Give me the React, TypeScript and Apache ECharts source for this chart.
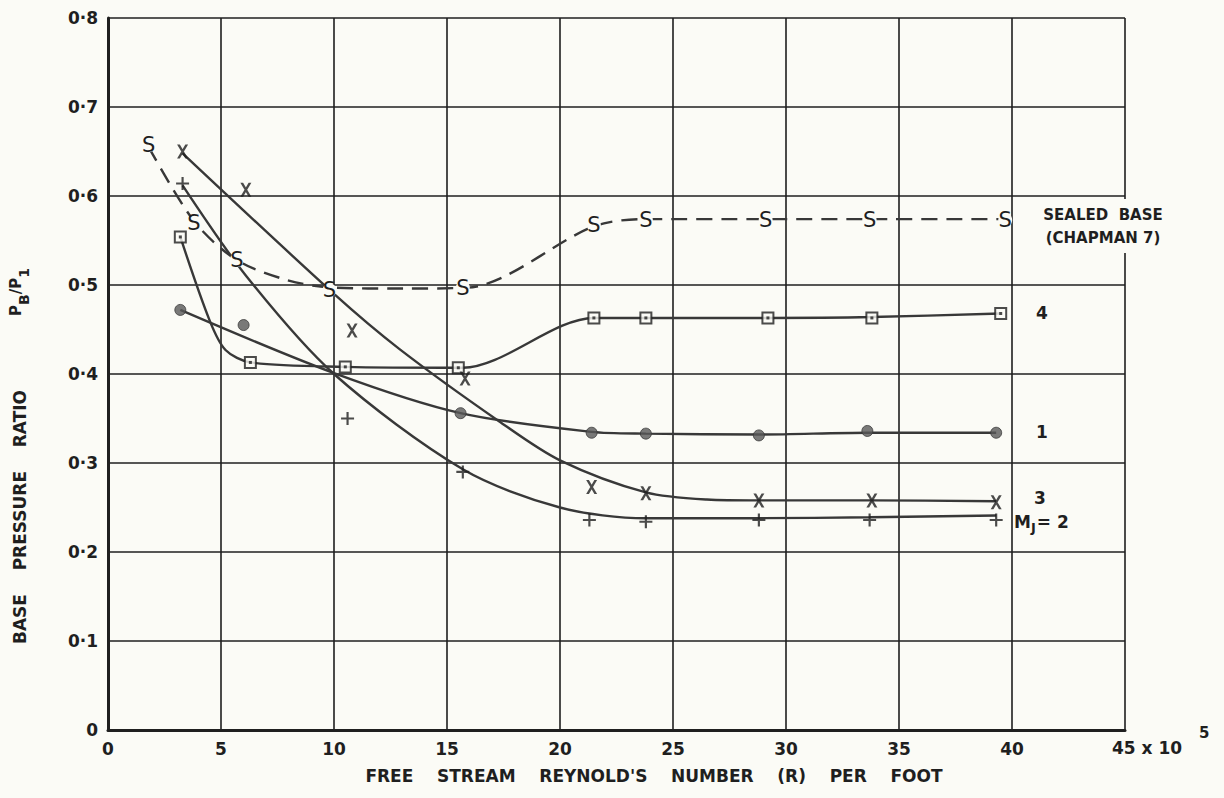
import { useEffect, useRef } from "react";
import * as echarts from "echarts";

// ---------- data ----------
const xTickValues = [0, 5, 10, 15, 20, 25, 30, 35, 40, 45];
const yTickValues = [0, 0.1, 0.2, 0.3, 0.4, 0.5, 0.6, 0.7, 0.8];

// Sealed base (Chapman 7) - dashed curve with "S" marks
const sealedCurveX = [1.8, 3.8, 5.7, 8.0, 10.0, 13.0, 15.9, 21.5, 23.8, 29.1, 33.7, 39.7];
const sealedCurveY = [0.655, 0.572, 0.528, 0.505, 0.497, 0.496, 0.497, 0.566, 0.574, 0.574, 0.574, 0.574];
const sealedMarkX = [1.8, 3.8, 5.7, 9.8, 15.7, 21.5, 23.8, 29.1, 33.7, 39.7];
const sealedMarkY = [0.657, 0.570, 0.528, 0.494, 0.497, 0.567, 0.573, 0.573, 0.573, 0.573];

// Mj = 4 (squares)
const m4CurveX = [3.2, 4.5, 5.2, 6.3, 10.5, 15.7, 21.5, 23.8, 29.2, 33.8, 39.5];
const m4CurveY = [0.554, 0.46, 0.427, 0.413, 0.408, 0.407, 0.463, 0.463, 0.463, 0.464, 0.468];
const m4MarkX = [3.2, 6.3, 10.5, 15.5, 21.5, 23.8, 29.2, 33.8, 39.5];
const m4MarkY = [0.554, 0.413, 0.408, 0.407, 0.463, 0.463, 0.463, 0.463, 0.468];

// Mj = 1 (circles)
const m1CurveX = [3.2, 10.0, 15.6, 21.4, 23.8, 28.8, 33.6, 39.3];
const m1CurveY = [0.472, 0.401, 0.356, 0.335, 0.333, 0.332, 0.334, 0.334];
const m1MarkX = [3.2, 6.0, 15.6, 21.4, 23.8, 28.8, 33.6, 39.3];
const m1MarkY = [0.472, 0.455, 0.356, 0.334, 0.333, 0.331, 0.336, 0.334];

// Mj = 3 (crosses x)
const m3CurveX = [3.3, 10.0, 12.9, 17.3, 20.0, 23.8, 26.5, 28.8, 33.8, 39.3];
const m3CurveY = [0.648, 0.49, 0.428, 0.347, 0.303, 0.267, 0.259, 0.258, 0.258, 0.257];
const m3MarkX = [3.3, 6.1, 10.8, 15.8, 21.4, 23.8, 28.8, 33.8, 39.3];
const m3MarkY = [0.650, 0.607, 0.449, 0.395, 0.273, 0.266, 0.258, 0.258, 0.256];

// Mj = 2 (plus)
const m2CurveX = [3.3, 6.15, 10.0, 15.7, 20.0, 23.8, 28.8, 33.7, 39.3];
const m2CurveY = [0.612, 0.509, 0.40, 0.293, 0.25, 0.238, 0.238, 0.239, 0.241];
const m2MarkX = [3.3, 10.6, 15.7, 21.3, 23.8, 28.8, 33.7, 39.3];
const m2MarkY = [0.614, 0.350, 0.290, 0.236, 0.234, 0.236, 0.236, 0.236];

// ---------- styling ----------
const BG = "#fbfbf6";
const INK = "#1f1f1f";
const CURVE = "#383838";
const FONT = "DejaVu Sans";

const zip = (xs: number[], ys: number[]) => xs.map((x, i) => [x, ys[i]]);

const lineSeries = (data: number[][], dashed = false) => ({
  type: "line",
  data,
  smooth: 0.3,
  showSymbol: false,
  symbol: "none",
  lineStyle: { color: CURVE, width: 2.4, type: dashed ? [16, 9] : "solid" },
  z: 3,
  silent: true,
});

export default function App() {
  const ref = useRef<HTMLDivElement>(null);

  useEffect(() => {
    if (!ref.current) return;
    const chart = echarts.init(ref.current, undefined, { renderer: "svg" });

    const option: any = {
      animation: false,
      backgroundColor: BG,
      grid: { left: 108, top: 18, width: 1017, height: 712, containLabel: false },
      xAxis: {
        type: "value",
        min: 0,
        max: 45,
        interval: 5,
        axisLine: { show: true, onZero: false, lineStyle: { color: INK, width: 3 } },
        axisTick: { show: false },
        splitLine: { show: true, lineStyle: { color: INK, width: 1.6 } },
        axisLabel: {
          margin: 10,
          fontFamily: FONT,
          fontWeight: "bold",
          fontSize: 17,
          color: INK,
          formatter: (v: number) =>
            xTickValues.includes(v) && v !== 45 ? String(v) : "",
        },
      },
      yAxis: {
        type: "value",
        min: 0,
        max: 0.8,
        interval: 0.1,
        axisLine: { show: true, onZero: false, lineStyle: { color: INK, width: 3 } },
        axisTick: { show: false },
        splitLine: { show: true, lineStyle: { color: INK, width: 1.6 } },
        axisLabel: {
          margin: 10,
          fontFamily: FONT,
          fontWeight: "bold",
          fontSize: 17,
          color: INK,
          formatter: (v: number) => {
            const t = yTickValues.find((y) => Math.abs(y - v) < 1e-6);
            if (t === undefined) return "";
            return t === 0 ? "0" : "0·" + Math.round(t * 10);
          },
        },
      },
      series: [
        lineSeries(zip(sealedCurveX, sealedCurveY), true),
        lineSeries(zip(m4CurveX, m4CurveY)),
        lineSeries(zip(m1CurveX, m1CurveY)),
        lineSeries(zip(m3CurveX, m3CurveY)),
        lineSeries(zip(m2CurveX, m2CurveY)),
        {
          type: "scatter",
          data: zip(sealedMarkX, sealedMarkY),
          symbol: "circle",
          symbolSize: 14,
          itemStyle: { color: BG, opacity: 1 },
          label: {
            show: true,
            position: "inside",
            formatter: "S",
            fontFamily: FONT,
            fontSize: 21,
            color: INK,
          },
          z: 5,
          silent: true,
        },
        {
          type: "scatter",
          data: zip(m4MarkX, m4MarkY),
          symbol: "rect",
          symbolSize: 11,
          itemStyle: { color: BG, borderColor: INK, borderWidth: 2 },
          z: 5,
          silent: true,
        },
        {
          type: "scatter",
          data: zip(m4MarkX, m4MarkY),
          symbol: "rect",
          symbolSize: 3,
          itemStyle: { color: INK },
          z: 6,
          silent: true,
        },
        {
          type: "scatter",
          data: zip(m1MarkX, m1MarkY),
          symbol: "circle",
          symbolSize: 11,
          itemStyle: { color: "#595959", borderColor: "#3a3a3a", borderWidth: 1 },
          z: 5,
          silent: true,
        },
        {
          type: "scatter",
          data: zip(m3MarkX, m3MarkY),
          symbol: "path://M0,0L3,0L12,14L9,14Z M9,0L12,0L3,14L0,14Z",
          symbolSize: [11, 14],
          itemStyle: { color: INK },
          z: 5,
          silent: true,
        },
        {
          type: "scatter",
          data: zip(m2MarkX, m2MarkY),
          symbol: "path://M5,0H7V12H5Z M0,5H12V7H0Z",
          symbolSize: 13,
          itemStyle: { color: INK },
          z: 5,
          silent: true,
        },
      ],
      graphic: [
        {
          type: "text",
          x: 1112,
          y: 748,
          z: 100,
          style: {
            text: "45 x 10",
            font: `bold 17px "${FONT}"`,
            fill: INK,
            align: "left",
            verticalAlign: "middle",
          },
        },
        {
          type: "text",
          x: 1199,
          y: 733,
          z: 100,
          style: {
            text: "5",
            font: `bold 15px "${FONT}"`,
            fill: INK,
            align: "left",
            verticalAlign: "middle",
          },
        },
        {
          type: "text",
          x: 654,
          y: 776,
          z: 100,
          style: {
            text: "FREE    STREAM    REYNOLD'S    NUMBER    (R)    PER    FOOT",
            font: `bold 17px "${FONT}"`,
            fill: INK,
            align: "center",
            verticalAlign: "middle",
          },
        },
        {
          type: "text",
          x: 20,
          y: 517,
          rotation: Math.PI / 2,
          z: 100,
          style: {
            text: "BASE    PRESSURE    RATIO",
            font: `bold 17px "${FONT}"`,
            fill: INK,
            align: "center",
            verticalAlign: "middle",
          },
        },
        {
          type: "text",
          x: 20,
          y: 292,
          rotation: Math.PI / 2,
          z: 100,
          style: {
            text: "{p|P}{s|B}{p|/P}{s|1}",
            fill: INK,
            align: "center",
            verticalAlign: "middle",
            rich: {
              p: { fontFamily: FONT, fontWeight: "bold", fontSize: 15, fill: INK, padding: [0, 0, 8, 0] },
              s: { fontFamily: FONT, fontWeight: "bold", fontSize: 14, fill: INK, padding: [8, 0, 0, 0] },
            },
          },
        },
        {
          type: "text",
          x: 1103,
          y: 226,
          z: 100,
          style: {
            text: "SEALED  BASE\n(CHAPMAN 7)",
            font: `bold 15px "${FONT}"`,
            fill: INK,
            align: "center",
            verticalAlign: "middle",
            lineHeight: 23,
            backgroundColor: BG,
            padding: [4, 2, 4, 2],
          },
        },
        {
          type: "text",
          x: 1042,
          y: 313,
          z: 100,
          style: { text: "4", font: `bold 17px "${FONT}"`, fill: INK, align: "center", verticalAlign: "middle" },
        },
        {
          type: "text",
          x: 1042,
          y: 432,
          z: 100,
          style: { text: "1", font: `bold 17px "${FONT}"`, fill: INK, align: "center", verticalAlign: "middle" },
        },
        {
          type: "text",
          x: 1040,
          y: 498,
          z: 100,
          style: { text: "3", font: `bold 17px "${FONT}"`, fill: INK, align: "center", verticalAlign: "middle" },
        },
        {
          type: "text",
          x: 1014,
          y: 522,
          z: 100,
          style: {
            text: "{m|M}{s|J}{m|= 2}",
            align: "left",
            verticalAlign: "middle",
            rich: {
              m: { fontFamily: FONT, fontWeight: "bold", fontSize: 17, fill: INK },
              s: { fontFamily: FONT, fontWeight: "bold", fontSize: 13, fill: INK, padding: [10, 1, 0, 0] },
            },
          },
        },
      ],
    };

    chart.setOption(option);
    return () => chart.dispose();
  }, []);

  return (
    <div
      ref={ref}
      style={{ position: "fixed", left: 0, top: 0, width: 1224, height: 798, background: BG }}
    />
  );
}
